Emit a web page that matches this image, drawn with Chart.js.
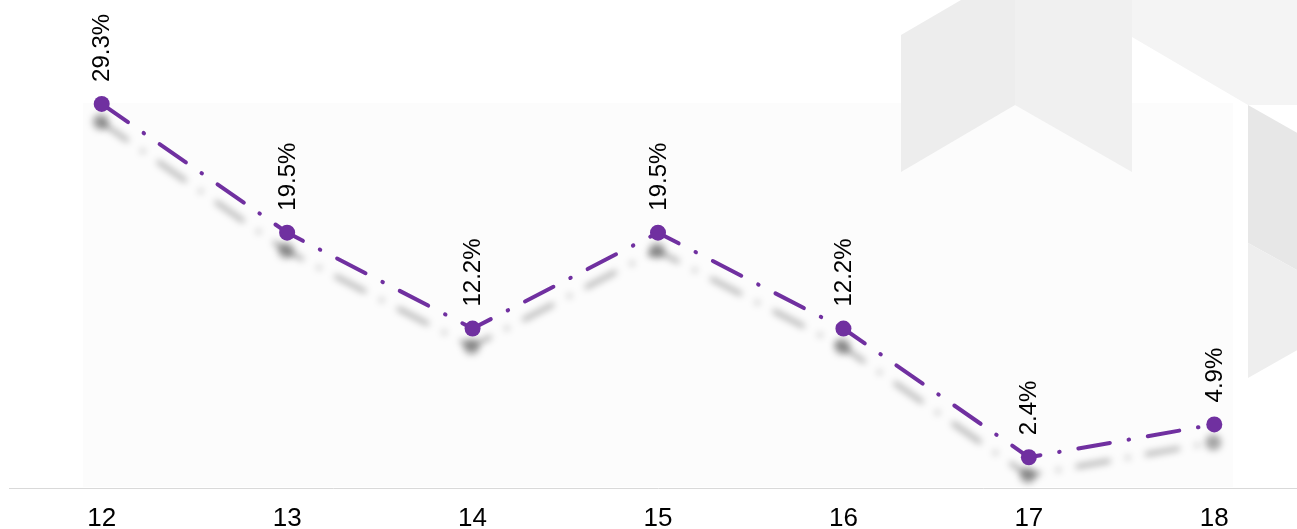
<!DOCTYPE html>
<html>
<head>
<meta charset="utf-8">
<script src="https://cdn.jsdelivr.net/npm/chart.js@4/dist/chart.umd.min.js"></script>
<style>
  html, body { margin: 0; padding: 0; background: #fff; overflow: hidden; }
  #wrap { width: 1297px; height: 529px; overflow: hidden; }
</style>
</head>
<body>
<div id="wrap"><canvas id="MyChart" width="1315" height="548"></canvas></div>
<script>
let categories = ['12', '13', '14', '15', '16', '17', '18']
let shares = [29.3, 19.5, 12.2, 19.5, 12.2, 2.4, 4.9]
let shareLabels = ['29.3%', '19.5%', '12.2%', '19.5%', '12.2%', '2.4%', '4.9%']

const purple = '#7030A0'

// grey cube shapes in the top right corner and the faint plot panel
let backdrop = {
    id: 'backdrop',
    beforeDraw(chart) {
        let ctx = chart.ctx
        ctx.save()
        ctx.fillStyle = '#fcfcfc'
        ctx.fillRect(83, 103, 1150, 384)
        let shapes = [
            ['#f4f4f4', [[1070, 0], [1315, 0], [1315, 105], [1248, 105], [1132, 37]]],
            ['#ededed', [[901, 35], [961, 0], [1015, 0], [1015, 105], [901, 172]]],
            ['#f0f0f0', [[1015, 0], [1132, 0], [1132, 172], [1015, 105]]],
            ['#e7e7e7', [[1248, 105], [1315, 143], [1315, 280], [1248, 243]]],
            ['#eeeeee', [[1248, 243], [1315, 280], [1315, 340], [1248, 378]]]
        ]
        shapes.forEach(([color, pts]) => {
            ctx.fillStyle = color
            ctx.beginPath()
            pts.forEach(([x, y], i) => i ? ctx.lineTo(x, y) : ctx.moveTo(x, y))
            ctx.closePath()
            ctx.fill()
        })
        ctx.restore()
    }
}

// soft grey shadow under the line
let lineShadow = {
    id: 'lineShadow',
    beforeDatasetDraw(chart) {
        let ctx = chart.ctx
        ctx.save()
        ctx.shadowColor = 'rgba(0, 0, 0, 0.35)'
        ctx.shadowBlur = 7
        ctx.shadowOffsetX = -1
        ctx.shadowOffsetY = 18
    },
    afterDatasetDraw(chart) {
        chart.ctx.restore()
    }
}

// rotated value labels above each point
let valueLabels = {
    id: 'valueLabels',
    afterDatasetsDraw(chart) {
        let ctx = chart.ctx
        let meta = chart.getDatasetMeta(0)
        ctx.save()
        ctx.fillStyle = '#000'
        ctx.font = '24px "Liberation Sans", Arial, sans-serif'
        ctx.textAlign = 'left'
        ctx.textBaseline = 'middle'
        meta.data.forEach((pt, i) => {
            ctx.save()
            ctx.translate(pt.x + 1, pt.y - 22)
            ctx.rotate(-Math.PI / 2)
            ctx.fillText(shareLabels[i], 0, 0)
            ctx.restore()
        })
        ctx.restore()
    }
}

let MyChart = document.getElementById('MyChart').getContext('2d')

let shareChart = new Chart(MyChart, {
    type: 'line',
    data: {
        labels: categories,
        datasets: [{
            label: 'share',
            data: shares,
            borderColor: purple,
            backgroundColor: purple,
            borderWidth: 4,
            borderDash: [32, 19, 0.5, 19],
            borderCapStyle: 'round',
            pointRadius: 8,
            pointBorderWidth: 0,
            pointBackgroundColor: purple,
            tension: 0,
            fill: false
        }]
    },
    options: {
        responsive: false,
        animation: false,
        layout: {
            padding: { left: 9, right: 0, top: 0, bottom: 0 }
        },
        scales: {
            x: {
                offset: true,
                grid: { display: false, drawTicks: false },
                border: { display: true, color: '#d9d9d9', width: 1 },
                ticks: {
                    color: '#000',
                    padding: 14,
                    font: { family: '"Liberation Sans", Arial, sans-serif', size: 26 }
                }
            },
            y: {
                display: false,
                min: 0,
                max: 36.6
            }
        },
        plugins: {
            legend: { display: false },
            tooltip: { enabled: false }
        }
    },
    plugins: [backdrop, lineShadow, valueLabels]
})
</script>
</body>
</html>
